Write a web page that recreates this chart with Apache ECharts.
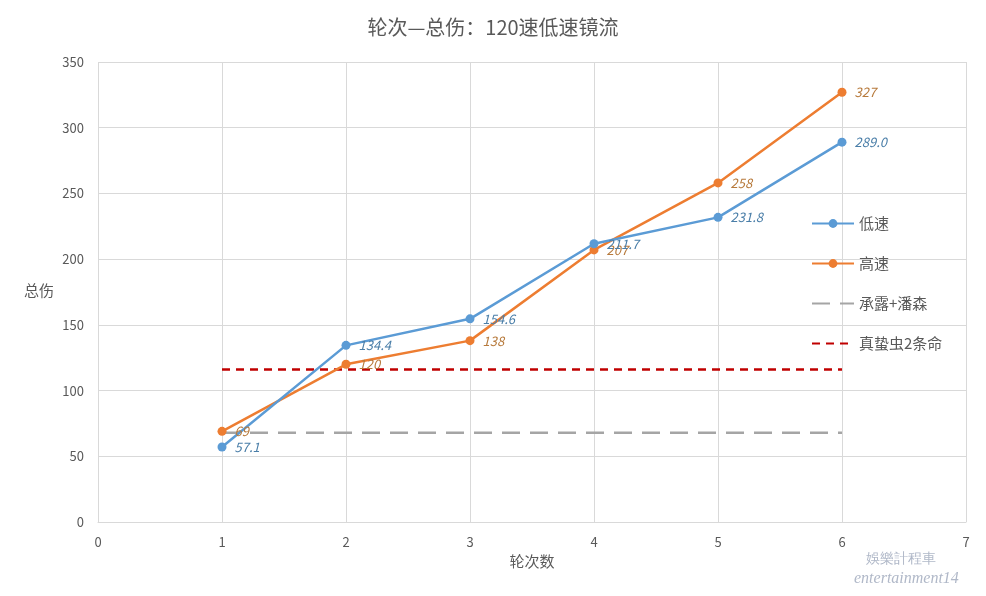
<!DOCTYPE html>
<html><head><meta charset="utf-8">
<script src="https://cdn.jsdelivr.net/npm/echarts@6/dist/echarts.min.js"></script>
<style>html,body{margin:0;padding:0;background:#fff}#c{width:986px;height:596px}</style>
</head><body><div id="c"></div>
<script>
var rounds = [1, 2, 3, 4, 5, 6];
var lowSpeed = [57.1, 134.4, 154.6, 211.7, 231.8, 289.0];
var lowLabels = ['57.1', '134.4', '154.6', '211.7', '231.8', '289.0'];
var highSpeed = [69, 120, 138, 207, 258, 327];
var refX = [1, 6];
var chengluPansen = [68, 68];
var zhezhong = [116, 116];
var yTicks = [0, 50, 100, 150, 200, 250, 300, 350];
var xTicks = [0, 1, 2, 3, 4, 5, 6, 7];

var font = 'Microsoft YaHei, "Noto Sans CJK SC", sans-serif';
var chart = echarts.init(document.getElementById('c'));
function pairs(xs, ys){ return xs.map(function(x,i){ return [x, ys[i]]; }); }
chart.setOption({
  animation: false,
  title: { text: '轮次—总伤：120速低速镜流', left: 'center', top: 12,
    textStyle: { fontFamily: font, fontSize: 20, fontWeight: 'normal', color: '#595959' } },
  grid: { left: 98, right: 20, top: 62, bottom: 74 },
  legend: {
    orient: 'vertical', left: 806, top: 211, itemGap: 25, itemWidth: 42, itemHeight: 11,
    textStyle: { fontFamily: font, fontSize: 15, color: '#595959' },
    data: [
      { name: '低速' },
      { name: '高速' },
      { name: '承露+潘森', itemStyle: { opacity: 0 } },
      { name: '真蛰虫2条命', itemStyle: { opacity: 0 } }
    ]
  },
  xAxis: {
    type: 'value', min: 0, max: 7, interval: 1,
    name: '轮次数', nameLocation: 'middle', nameGap: 30,
    nameTextStyle: { fontFamily: font, fontSize: 15, color: '#595959' },
    axisLine: { show: true, lineStyle: { color: '#d9d9d9' } },
    axisTick: { show: false },
    axisLabel: { color: '#595959', fontSize: 13, fontFamily: font, margin: 14 },
    splitLine: { show: true, lineStyle: { color: '#d9d9d9' } }
  },
  yAxis: {
    type: 'value', min: 0, max: 350, interval: 50,
    axisLine: { show: false }, axisTick: { show: false },
    axisLabel: { color: '#595959', fontSize: 13, fontFamily: font, margin: 14 },
    splitLine: { show: true, lineStyle: { color: '#d9d9d9' } }
  },
  graphic: [
    { type: 'text', left: 24, top: 283, style: { text: '总伤', fill: '#595959', font: '15px ' + font } },
    { type: 'text', left: 866, top: 552, style: { text: '娛樂計程車', fill: '#b0b8c8', font: '14px serif' } },
    { type: 'text', left: 854, top: 571, style: { text: 'entertainment14', fill: '#b0b8c8', font: 'italic 16px serif' } }
  ],
  series: [
    { name: '承露+潘森', type: 'line', data: pairs(refX, chengluPansen), symbol: 'none',
      lineStyle: { color: '#a5a5a5', width: 2.5, type: [18, 10] }, itemStyle: { color: '#a5a5a5' } },
    { name: '真蛰虫2条命', type: 'line', data: pairs(refX, zhezhong), symbol: 'none',
      lineStyle: { color: '#c00000', width: 2.5, type: [8, 6] }, itemStyle: { color: '#c00000' } },
    { name: '高速', type: 'line', data: pairs(rounds, highSpeed), symbol: 'circle', symbolSize: 9,
      lineStyle: { color: '#ed7d31', width: 2.5 }, itemStyle: { color: '#ed7d31' },
      label: { show: true, position: 'right', distance: 8, fontStyle: 'italic', fontSize: 13,
        color: '#b77a3c', fontFamily: font, formatter: function(p){ return String(p.value[1]); } } },
    { name: '低速', type: 'line', data: pairs(rounds, lowSpeed), symbol: 'circle', symbolSize: 9,
      lineStyle: { color: '#5b9bd5', width: 2.5 }, itemStyle: { color: '#5b9bd5' },
      label: { show: true, position: 'right', distance: 8, fontStyle: 'italic', fontSize: 13,
        color: '#4a7ea8', fontFamily: font, formatter: function(p){ return lowLabels[p.dataIndex]; } } }
  ]
});
</script></body></html>
